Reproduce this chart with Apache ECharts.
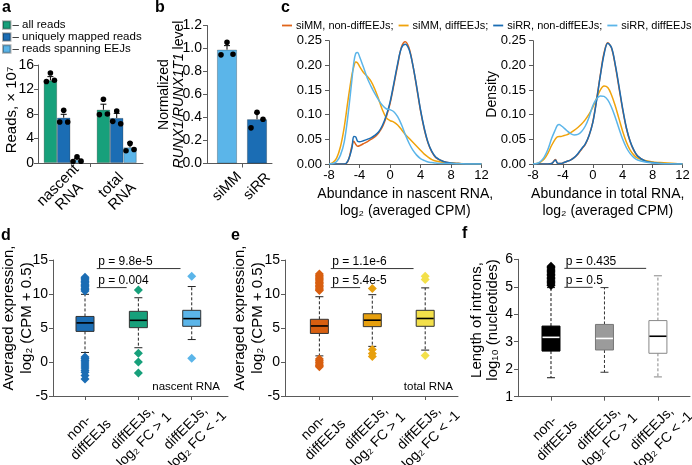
<!DOCTYPE html>
<html><head><meta charset="utf-8">
<script src="https://cdn.jsdelivr.net/npm/echarts@6/dist/echarts.min.js"></script>
<style>html,body{margin:0;padding:0;background:#fff}#c{width:692px;height:465px}</style>
</head><body><div id="c"></div>
<script>
// ================= DATA =================
// Panel a
const readGroups = ['nascent\nRNA', 'total\nRNA'];
const readTypes = ['all reads', 'uniquely mapped reads', 'reads spanning EEJs'];
const allReads = [13.5, 8.7];
const uniqueReads = [7.4, 7.35];
const eejReads = [0.5, 2.55];
const allReadsSD = [0.6, 0.9];
const uniqueReadsSD = [0.55, 0.75];
const eejReadsSD = [0.2, 0.75];
const allReadsReps = [[13.3, 14.7, 13.5], [7.9, 10.4, 8.0]];
const uniqueReadsReps = [[6.7, 8.6, 6.7], [6.8, 8.5, 6.4]];
const eejReadsReps = [[0.25, 1.0, 0.3], [2.0, 3.2, 2.2]];
// Panel b
const runxCats = ['siMM', 'siRR'];
const runxLevel = [0.99, 0.385];
const runxSD = [0.035, 0.055];
const runxReps = [[0.945, 1.055, 0.95], [0.31, 0.445, 0.385]];
// Panel c
const densityNames = ['siMM, non-diffEEJs', 'siMM, diffEEJs', 'siRR, non-diffEEJs', 'siRR, diffEEJs'];
const densityX = [-8,-7.5,-7,-6.5,-6,-5.5,-5,-4.75,-4.5,-4.25,-4,-3.5,-3,-2.5,-2,-1.5,-1,-0.5,0,0.5,1,1.5,2,2.5,3,3.5,4,4.5,5,5.5,6,7,8,9,10,11,12];
const nascentSiMMNon = [0,0,0,0,0,0.006,0.036,0.046,0.040,0.036,0.037,0.041,0.045,0.050,0.055,0.063,0.075,0.095,0.122,0.160,0.200,0.237,0.248,0.235,0.200,0.155,0.108,0.070,0.042,0.024,0.013,0.005,0.002,0.001,0,0,0];
const nascentSiMMDiff = [0,0.003,0.012,0.035,0.075,0.130,0.180,0.197,0.207,0.205,0.198,0.186,0.178,0.168,0.152,0.132,0.110,0.094,0.088,0.085,0.079,0.070,0.060,0.052,0.044,0.036,0.028,0.020,0.014,0.009,0.006,0.003,0.002,0.001,0.0005,0,0];
const nascentSiRRNon = [0,0,0,0,0,0.007,0.032,0.056,0.055,0.046,0.045,0.047,0.050,0.053,0.058,0.065,0.078,0.098,0.125,0.163,0.203,0.235,0.243,0.232,0.200,0.157,0.110,0.072,0.043,0.025,0.014,0.005,0.002,0.001,0,0,0];
const nascentSiRRDiff = [0,0.001,0.005,0.018,0.045,0.100,0.170,0.205,0.224,0.226,0.218,0.197,0.175,0.158,0.143,0.130,0.119,0.112,0.110,0.106,0.096,0.080,0.060,0.042,0.028,0.018,0.011,0.007,0.004,0.003,0.002,0.001,0.001,0.0005,0,0,0];
const totalSiMMNon = [0,0,0,0,0,0.001,0.009,0.002,0.001,0.001,0.002,0.005,0.008,0.013,0.020,0.030,0.040,0.058,0.085,0.130,0.180,0.225,0.246,0.235,0.200,0.155,0.110,0.072,0.045,0.027,0.016,0.006,0.003,0.001,0.0005,0,0];
const totalSiMMDiff = [0,0.001,0.004,0.010,0.022,0.038,0.051,0.055,0.056,0.056,0.057,0.059,0.063,0.068,0.074,0.081,0.090,0.101,0.115,0.133,0.150,0.158,0.155,0.140,0.118,0.092,0.066,0.044,0.028,0.018,0.012,0.007,0.004,0.003,0.002,0.001,0];
const totalSiRRNon = [0,0,0,0,0,0.001,0.008,0.002,0.001,0.001,0.002,0.005,0.008,0.013,0.021,0.031,0.041,0.058,0.084,0.128,0.178,0.222,0.245,0.236,0.202,0.158,0.112,0.073,0.046,0.028,0.016,0.006,0.003,0.001,0.0005,0,0];
const totalSiRRDiff = [0,0.001,0.005,0.014,0.030,0.052,0.070,0.078,0.080,0.078,0.075,0.068,0.062,0.059,0.060,0.066,0.077,0.095,0.118,0.132,0.138,0.137,0.130,0.115,0.095,0.072,0.050,0.033,0.021,0.013,0.008,0.004,0.002,0.001,0.0005,0,0];
// Panels d, e, f  (low whisker, Q1, median, Q3, high whisker)
const boxCats = ['non-\ndiffEEJs', 'diffEEJs,\nlog₂ FC > 1', 'diffEEJs,\nlog₂ FC < -1'];
const nascentBox = [[1.4, 4.5, 5.75, 6.7, 9.95], [2.1, 5.05, 6.13, 7.45, 9.45], [3.3, 5.25, 6.38, 7.6, 11.1]];
const nascentOut = [
  [10.45,10.65,10.85,11.05,11.25,11.45,11.65,11.85,12.05,12.25,12.45,0.75,0.5,0.25,0.0,-0.3,-0.6,-0.9,-1.2,-1.5,-2.0,-2.5],
  [10.6, 1.3, 0.0, -1.6],
  [12.6, 0.55]];
const totalBox = [[0.9, 4.2, 5.3, 6.28, 9.6], [2.3, 5.2, 6.15, 7.1, 9.9], [1.75, 5.25, 6.4, 7.6, 10.9]];
const totalOut = [
  [10.5,10.7,10.9,11.1,11.3,11.5,11.7,11.9,12.1,12.3,12.5,12.7,12.95,0.45,0.2,-0.05,-0.3,-0.5,-0.7],
  [10.8, 1.85, 1.25, 0.8],
  [12.6, 12.15, 0.95]];
const intronBox = [[1.69, 2.66, 3.16, 3.57, 4.97], [1.89, 2.7, 3.12, 3.63, 4.97], [1.72, 2.58, 3.2, 3.77, 5.4]];
const intronOut = [
  [5.05,5.1,5.15,5.2,5.25,5.3,5.35,5.4,5.45,5.5,5.55,5.6,5.65,5.7,5.75],
  [], []];
const pNascent = ['p = 9.8e-5', 'p = 0.004'];
const pTotal = ['p = 1.1e-6', 'p = 5.4e-5'];
const pIntron = ['p = 0.435', 'p = 0.5'];

// ================= STYLE / HELPERS =================
const FONT = 'Liberation Sans, Arial, Helvetica, sans-serif';
const AX = '#5a5a5a';
const GREEN = '#17a07b', DBLUE = '#1b6db4', LBLUE = '#5bb5e9';
const ORANGE = '#e0651b', GOLD = '#f0a30b', YELLOW = '#f3e04a', DORANGE = '#d85f10', AMBER = '#e7a00e';
const JIT = [-0.3, 0, 0.3];

function richLines(s) { return s.split('\n').map(l => '{c|' + l + '}').join('\n'); }
function catAxis(gi, min, max, cats, ticks, fs, margin, lh) {
  return {type: 'value', gridIndex: gi, min: min, max: max,
    axisLine: {show: true, onZero: false, lineStyle: {color: AX, width: 1}},
    axisTick: {show: true, customValues: ticks, length: 4, lineStyle: {color: AX}},
    axisLabel: {customValues: cats.map((_, i) => i), formatter: v => richLines(cats[Math.round(v)]),
      rotate: 45, align: 'center', verticalAlign: 'middle', margin: margin,
      color: '#000', fontSize: fs, fontFamily: FONT,
      rich: {c: {align: 'center', fontSize: fs, fontFamily: FONT, color: '#000', lineHeight: lh}}},
    splitLine: {show: false}};
}
function valAxis(gi, min, max, interval, fmt, fs, margin, extra) {
  return Object.assign({type: 'value', gridIndex: gi, min: min, max: max, interval: interval,
    nameMoveOverlap: false,
    axisLine: {show: true, onZero: false, lineStyle: {color: AX, width: 1}},
    axisTick: {show: true, length: 4, lineStyle: {color: AX}},
    axisLabel: {color: '#000', fontSize: fs, fontFamily: FONT, margin: margin, formatter: fmt},
    splitLine: {show: false}}, extra || {});
}
function yName(name, gap, lh, fs, shiftUp, rich) {
  return {name: name, nameLocation: 'middle', nameRotate: 90, nameGap: gap, nameMoveOverlap: false,
    nameTextStyle: {fontSize: fs, fontFamily: FONT, color: '#000', lineHeight: lh, align: 'center',
      padding: [0, 0, 0, shiftUp * 2], rich: rich}};
}
function errRender(barW, k) {
  return function (params, api) {
    const m = api.coord([api.value(0), api.value(1)]);
    const h = api.coord([api.value(0), api.value(2)]);
    const x = m[0] + k * barW;
    return {type: 'group', children: [
      {type: 'line', shape: {x1: x, y1: m[1], x2: x, y2: h[1]}, style: {stroke: '#000', lineWidth: 1}},
      {type: 'line', shape: {x1: x - 3, y1: h[1], x2: x + 3, y2: h[1]}, style: {stroke: '#000', lineWidth: 1}}]};
  };
}
function dotRender(barW, k) {
  return function (params, api) {
    const p = api.coord([api.value(0), api.value(1)]);
    const x = p[0] + k * barW + JIT[api.value(2)] * barW;
    return {type: 'circle', shape: {cx: x, cy: p[1], r: 2.8}, style: {fill: '#000'}};
  };
}
function repData(reps) {
  const out = [];
  reps.forEach((r, g) => r.forEach((v, j) => out.push([g, v, j])));
  return out;
}
function boxRender(styles) {
  return function (params, api) {
    const x = api.value(0);
    const lo = api.coord([x, api.value(1)]), q1 = api.coord([x, api.value(2)]),
      md = api.coord([x, api.value(3)]), q3 = api.coord([x, api.value(4)]), hi = api.coord([x, api.value(5)]);
    const s = styles[params.dataIndex];
    const cx = lo[0], bw = 18, cw = 8;
    const dash = {stroke: s.whisker, lineWidth: 1, lineDash: [3, 2]};
    const solid = {stroke: s.whisker, lineWidth: 1};
    return {type: 'group', children: [
      {type: 'line', shape: {x1: cx, y1: q3[1], x2: cx, y2: hi[1]}, style: dash},
      {type: 'line', shape: {x1: cx, y1: q1[1], x2: cx, y2: lo[1]}, style: dash},
      {type: 'line', shape: {x1: cx - cw / 2, y1: hi[1], x2: cx + cw / 2, y2: hi[1]}, style: solid},
      {type: 'line', shape: {x1: cx - cw / 2, y1: lo[1], x2: cx + cw / 2, y2: lo[1]}, style: solid},
      {type: 'rect', shape: {x: cx - bw / 2, y: q3[1], width: bw, height: q1[1] - q3[1]},
        style: {fill: s.fill, stroke: s.border, lineWidth: 1}},
      {type: 'line', shape: {x1: cx - bw / 2 + 0.5, y1: md[1], x2: cx + bw / 2 - 0.5, y2: md[1]},
        style: {stroke: s.median, lineWidth: 1.6}}]};
  };
}
function pRender(texts) {
  return function (params, api) {
    const a = api.coord([api.value(0), api.value(2)]);
    const b = api.coord([api.value(1), api.value(2)]);
    return {type: 'group', children: [
      {type: 'line', shape: {x1: a[0], y1: a[1], x2: b[0], y2: b[1]}, style: {stroke: '#333', lineWidth: 1}},
      {type: 'text', x: a[0] + 1.5, y: a[1] - 1, style: {text: texts[params.dataIndex], fill: '#000',
        font: '12px ' + FONT, align: 'left', verticalAlign: 'bottom'}}]};
  };
}
function outData(outs) {
  const d = [];
  outs.forEach((arr, i) => arr.forEach(v => d.push([i, v])));
  return d;
}
function boxPanel(gi, boxes, outs, styles, outColors, pTexts, pPos) {
  return [
    {type: 'custom', xAxisIndex: gi, yAxisIndex: gi, renderItem: boxRender(styles),
      encode: {x: 0, y: [1, 2, 3, 4, 5]}, data: boxes.map((b, i) => [i].concat(b)), silent: true},
    {type: 'scatter', xAxisIndex: gi, yAxisIndex: gi, symbol: 'diamond', symbolSize: [9, 9],
      data: outData(outs), itemStyle: {color: p => outColors[Math.round(p.value[0])], opacity: 1}, silent: true},
    {type: 'custom', xAxisIndex: gi, yAxisIndex: gi, renderItem: pRender(pTexts),
      encode: {x: [0, 1], y: 2}, data: pPos, silent: true}
  ];
}

// ================= OPTION =================
const readSeries = [allReads, uniqueReads, eejReads];
const readSD = [allReadsSD, uniqueReadsSD, eejReadsSD];
const readReps = [allReadsReps, uniqueReadsReps, eejReadsReps];
const readColors = [GREEN, DBLUE, LBLUE];
const BAR_A = 13.3, BAR_B = 20;

const series = [];
readTypes.forEach((name, k) => {
  series.push({type: 'bar', name: name, xAxisIndex: 0, yAxisIndex: 0, barWidth: BAR_A, barGap: '0%',
    data: readSeries[k].map((v, g) => [g, v]),
    itemStyle: {color: readColors[k], borderColor: 'rgba(0,0,0,0.3)', borderWidth: 0.8}, silent: true});
});
readTypes.forEach((name, k) => {
  series.push({type: 'custom', xAxisIndex: 0, yAxisIndex: 0, renderItem: errRender(BAR_A, k - 1),
    data: readSeries[k].map((v, g) => [g, v, v + readSD[k][g]]), silent: true, z: 3});
  series.push({type: 'custom', xAxisIndex: 0, yAxisIndex: 0, renderItem: dotRender(BAR_A, k - 1),
    data: repData(readReps[k]), silent: true, z: 4});
});
series.push({type: 'bar', name: 'runx', xAxisIndex: 1, yAxisIndex: 1, barWidth: BAR_B,
  data: runxLevel.map((v, g) => ({value: [g, v], itemStyle: {color: [LBLUE, DBLUE][g]}})),
  itemStyle: {borderColor: 'rgba(0,0,0,0.3)', borderWidth: 0.8}, silent: true});
series.push({type: 'custom', xAxisIndex: 1, yAxisIndex: 1, renderItem: errRender(BAR_B, 0),
  data: runxLevel.map((v, g) => [g, v, v + runxSD[g]]), silent: true, z: 3});
series.push({type: 'custom', xAxisIndex: 1, yAxisIndex: 1, renderItem: dotRender(BAR_B, 0),
  data: repData(runxReps), silent: true, z: 4});

const densityColors = [ORANGE, GOLD, DBLUE, LBLUE];
const nascentDens = [nascentSiMMNon, nascentSiMMDiff, nascentSiRRNon, nascentSiRRDiff];
const totalDens = [totalSiMMNon, totalSiMMDiff, totalSiRRNon, totalSiRRDiff];
[nascentDens, totalDens].forEach((set, p) => {
  set.forEach((ys, k) => {
    series.push({type: 'line', name: densityNames[k], xAxisIndex: 2 + p, yAxisIndex: 2 + p,
      data: densityX.map((x, i) => [x, ys[i]]), smooth: 0.35, showSymbol: false, symbol: 'none',
      lineStyle: {color: densityColors[k], width: 1.5}, itemStyle: {color: densityColors[k]},
      clip: true, silent: true});
  });
});

const dStyles = [
  {fill: DBLUE, border: '#333', whisker: '#222', median: '#000'},
  {fill: GREEN, border: '#333', whisker: '#222', median: '#000'},
  {fill: LBLUE, border: '#333', whisker: '#222', median: '#000'}];
const eStyles = [
  {fill: DORANGE, border: '#333', whisker: '#222', median: '#000'},
  {fill: AMBER, border: '#333', whisker: '#222', median: '#000'},
  {fill: YELLOW, border: '#333', whisker: '#222', median: '#000'}];
const fStyles = [
  {fill: '#000', border: '#000', whisker: '#111', median: '#fff'},
  {fill: '#9b9b9b', border: '#777', whisker: '#333', median: '#fff'},
  {fill: '#fff', border: '#888', whisker: '#888', median: '#000'}];
boxPanel(4, nascentBox, nascentOut, dStyles, [DBLUE, GREEN, LBLUE], pNascent,
  [[0.22, 1.79, 13.74], [0.22, 0.78, 10.94]]).forEach(s => series.push(s));
boxPanel(5, totalBox, totalOut, eStyles, [DORANGE, AMBER, YELLOW], pTotal,
  [[0.215, 1.78, 13.74], [0.215, 0.77, 10.94]]).forEach(s => series.push(s));
boxPanel(6, intronBox, intronOut, fStyles, ['#000', '#000', '#000'], pIntron,
  [[0.25, 1.78, 5.67], [0.25, 0.78, 4.98]]).forEach(s => series.push(s));

const grids = [
  {left: 38, top: 65, width: 105, height: 98},
  {left: 207, top: 25.5, width: 65, height: 138},
  {left: 329, top: 40.7, width: 152.5, height: 123.3},
  {left: 533, top: 40.7, width: 149.5, height: 123.3},
  {left: 53, top: 260, width: 175, height: 136},
  {left: 285, top: 260, width: 173, height: 136},
  {left: 518, top: 259.3, width: 172, height: 137.4}
].map(g => Object.assign({outerBoundsMode: 'none', containLabel: false, show: false}, g));

const f2 = v => v.toFixed(2), f1 = v => v.toFixed(1), f0 = v => String(v);
const subLog = 'log₂ (averaged CPM)';

const option = {
  animation: false,
  textStyle: {fontFamily: FONT},
  grid: grids,
  legend: [
    {data: readTypes, orient: 'vertical', left: 2, top: 19, icon: 'rect', itemWidth: 7.5, itemHeight: 7.5,
      itemGap: 0, padding: 0, formatter: n => '– ' + n, selectedMode: false,
      textStyle: {fontSize: 11.5, fontFamily: FONT, color: '#000', lineHeight: 11.5, padding: [0, 0, 0, -3]}},
    {data: densityNames, orient: 'horizontal', left: 282, top: 20, icon: 'rect', itemWidth: 10, itemHeight: 1.8,
      itemGap: 5, padding: 0, selectedMode: false,
      formatter: n => n + (n === densityNames[densityNames.length - 1] ? '' : ';'),
      textStyle: {fontSize: 11, fontFamily: FONT, color: '#000', padding: [0, 0, 0, -1]}}
  ],
  xAxis: [
    catAxis(0, -0.485, 1.496, readGroups, [0.5], 15, 28, 16),
    catAxis(1, -0.667, 1.5, runxCats, [0.5], 14.5, 23, 16),
    valAxis(2, -8, 12, 4, f0, 13, 5, {name: 'Abundance in nascent RNA,\n' + subLog, nameLocation: 'middle', nameGap: 22,
      nameTextStyle: {fontSize: 14, fontFamily: FONT, color: '#000', lineHeight: 17}}),
    valAxis(3, -8, 12, 4, f0, 13, 5, {name: 'Abundance in total RNA,\n' + subLog, nameLocation: 'middle', nameGap: 22,
      nameTextStyle: {fontSize: 14, fontFamily: FONT, color: '#000', lineHeight: 17}}),
    catAxis(4, -0.6, 2.68, boxCats, [0, 1, 2], 14, 38, 17),
    catAxis(5, -0.65, 2.62, boxCats, [0, 1, 2], 14, 38, 17),
    catAxis(6, -0.617, 2.6, boxCats, [0, 1, 2], 14, 38, 17)
  ],
  yAxis: [
    valAxis(0, 0, 16, 4, f0, 14, 4, yName('Reads, × 10⁷', 18, 17, 15, 4)),
    valAxis(1, 0, 1.2, 0.2, f1, 14, 5, yName('{n|Normalized}\n{i|RUNX1/RUNX1T1}{n| level}', 20, 15, 14, 0,
      {n: {fontSize: 14, fontFamily: FONT, color: '#000'}, i: {fontSize: 14, fontFamily: FONT, color: '#000', fontStyle: 'italic'}})),
    valAxis(2, 0, 0.25, 0.05, f2, 13, 7),
    valAxis(3, 0, 0.25, 0.05, f2, 13, 7, yName('Density', 33, 15, 14, 8)),
    valAxis(4, -5, 15, 5, f0, 14, 5, yName('Averaged expression,\nlog₂ (CPM + 0.5)', 17, 18, 15, 10)),
    valAxis(5, -5, 15, 5, f0, 14, 5, yName('Averaged expression,\nlog₂ (CPM + 0.5)', 18, 18, 15, 10)),
    valAxis(6, 1, 6, 1, f0, 14, 5, yName('Length of introns,\nlog₁₀ (nucleotides)', 17, 16, 15, 8))
  ],
  graphic: [
    {type: 'text', left: 2, top: 0, style: {text: 'a', font: 'bold 16px ' + FONT, fill: '#000'}},
    {type: 'text', left: 155, top: 0, style: {text: 'b', font: 'bold 16px ' + FONT, fill: '#000'}},
    {type: 'text', left: 281, top: 0, style: {text: 'c', font: 'bold 16px ' + FONT, fill: '#000'}},
    {type: 'text', left: 1, top: 228, style: {text: 'd', font: 'bold 16px ' + FONT, fill: '#000'}},
    {type: 'text', left: 231, top: 228, style: {text: 'e', font: 'bold 16px ' + FONT, fill: '#000'}},
    {type: 'text', left: 462, top: 226, style: {text: 'f', font: 'bold 16px ' + FONT, fill: '#000'}},
    {type: 'text', x: 220, y: 387, style: {text: 'nascent RNA', font: '11.5px ' + FONT, fill: '#000', align: 'right', verticalAlign: 'middle'}},
    {type: 'text', x: 453, y: 387, style: {text: 'total RNA', font: '11.5px ' + FONT, fill: '#000', align: 'right', verticalAlign: 'middle'}}
  ],
  series: series
};
const chart = echarts.init(document.getElementById('c'));
chart.setOption(option);
</script>
</body></html>
